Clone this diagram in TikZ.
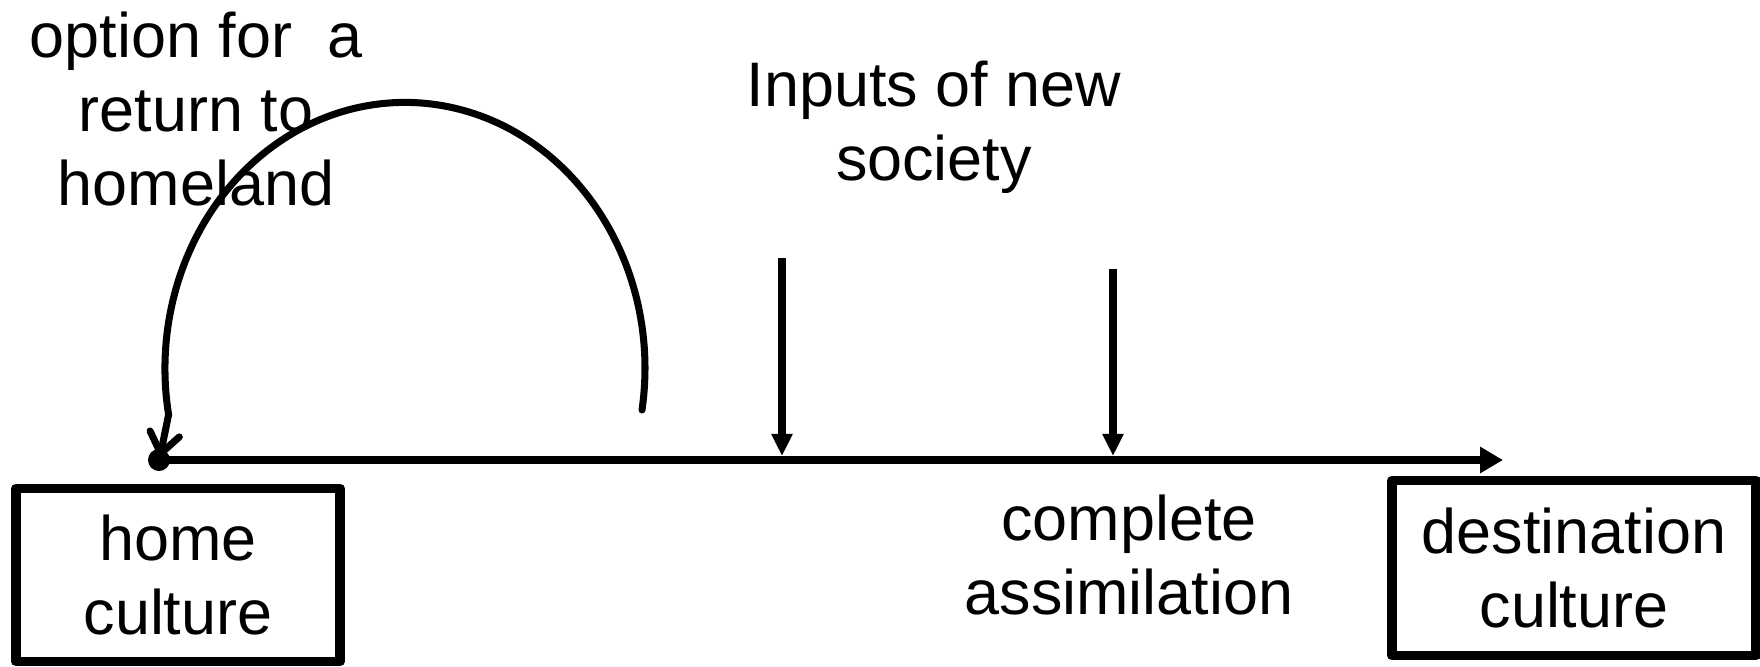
\documentclass[tikz,border=0pt]{standalone}
\usepackage{fontspec}
\setmainfont{Liberation Sans}
\usetikzlibrary{arrows.meta}

\begin{document}
\begin{tikzpicture}[line join=round,
    txt/.style={align=center, inner sep=0pt, font=\fontsize{17.9}{21}\selectfont},
    culturebox/.style={draw, line width=2.8pt, align=center, inner sep=0pt,
      font=\fontsize{17.9}{21}\selectfont}]

    \useasboundingbox (0,0) rectangle (17.6,-6.66);

    % Coordinates
    \coordinate (start) at (1.59,-4.60);
    \coordinate (end)   at (15.03,-4.60);
    \coordinate (tip)   at (1.60,-4.57);
    \coordinate (turn)  at (6.42,-4.10);
    \coordinate (topA)  at (7.82,-2.58);
    \coordinate (botA)  at (7.82,-4.56);
    \coordinate (topB)  at (11.13,-2.69);
    \coordinate (botB)  at (11.13,-4.56);

    % Boxes
    \node[culturebox, minimum width=3.24cm, minimum height=1.73cm] (home) at (1.78,-5.75) {home\\culture};
    \node[culturebox, minimum width=3.64cm, minimum height=1.75cm] (dest) at (15.74,-5.68) {destination\\culture};

    % Main line
    \draw[-{Triangle[length=6.5pt, width=7.1pt]}, line width=2.3pt] (start) -- (end);
    \fill (start) circle (0.11);

    % Inputs
    \draw[-{Triangle[length=6.3pt, width=5.7pt]}, line width=2pt] (topA) -- (botA);
    \draw[-{Triangle[length=6.3pt, width=5.7pt]}, line width=2pt] (topB) -- (botB);

    % Return loop
    \draw[-{Straight Barb[length=5.7pt, width=8.5pt, round]}, line width=2pt, line cap=round]
      (turn) arc[start angle=-9, end angle=190, x radius=2.40, y radius=2.66] -- (tip);

    % Labels
    \node[txt, anchor=base] (option) at (1.96,-2.05) {option for\ \ a\\return to\\homeland};
    \node[txt, anchor=base] (inputs) at (9.34,-1.80) {Inputs of new\\society};
    \node[txt, anchor=base] (assim)  at (11.29,-6.14) {complete\\assimilation};

\end{tikzpicture}
\end{document}
